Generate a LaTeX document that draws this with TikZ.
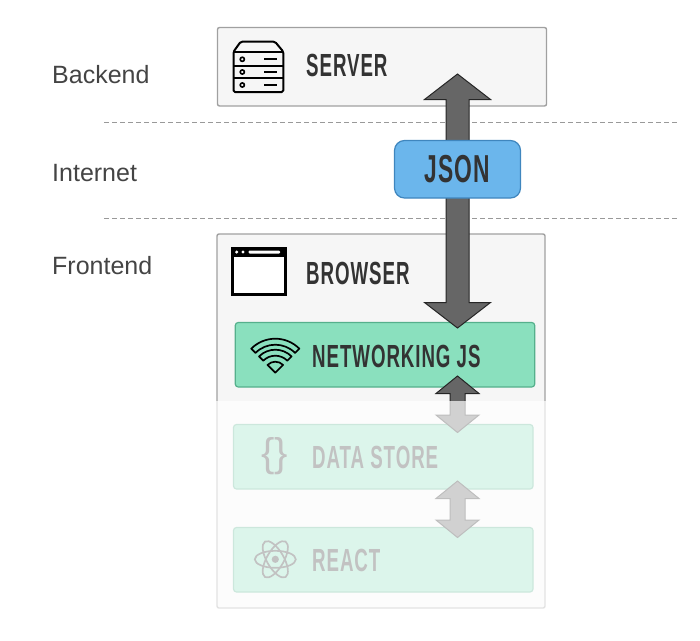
\documentclass[tikz,border=0pt]{standalone}
\usepackage{fontspec}
\usetikzlibrary{calc}
\setmainfont{Liberation Sans}
\newfontfamily\capsfont[FakeStretch=0.585,LetterSpace=2.9]{Liberation Sans Bold}
\definecolor{ink}{HTML}{333333}
\definecolor{sidetext}{HTML}{444444}
\definecolor{panel}{HTML}{F6F6F6}
\definecolor{panelline}{HTML}{A0A0A0}
\definecolor{mint}{HTML}{8AE0BE}
\definecolor{mintline}{HTML}{55B08C}
\definecolor{sky}{HTML}{6BB6EC}
\definecolor{skyline}{HTML}{3F86BE}
\definecolor{arrowgrey}{HTML}{666666}
\tikzset{
  x=1pt,y=-1pt,
  panelbox/.style={draw=panelline,fill=panel,line width=1.4pt,rounded corners=2pt,outer sep=0pt,inner sep=0pt},
  mintbox/.style={draw=mintline,fill=mint,line width=1.2pt,rounded corners=3pt,outer sep=0pt,inner sep=0pt,minimum width=299.5pt,minimum height=64.5pt},
  jsonbox/.style={draw=skyline,fill=sky,line width=1.2pt,rounded corners=10pt,outer sep=0pt,inner sep=0pt,minimum width=126pt,minimum height=57.5pt,text=ink,font=\capsfont\fontsize{39}{39}\selectfont},
  caps/.style={anchor=west,inner sep=0pt,text=ink,font=\capsfont\fontsize{32}{32}\selectfont},
  side/.style={anchor=base west,inner sep=0pt,text=sidetext,font=\fontsize{25}{25}\selectfont},
  rule/.style={draw=black!40,line width=.8pt,dash pattern=on 5pt off 3pt},
  blockarrow/.style n args={3}{draw=black!85,fill=arrowgrey,line width=1pt,line join=miter,
    to path={let \p1=(\tikztostart),\p2=(\tikztotarget) in
      (\x1,\y1) -- (\x1+#1,\y1-#3) -- (\x1+#2,\y1-#3) -- (\x1+#2,\y2+#3) -- (\x1+#1,\y2+#3)
      -- (\x1,\y2) -- (\x1-#1,\y2+#3) -- (\x1-#2,\y2+#3) -- (\x1-#2,\y1-#3) -- (\x1-#1,\y1-#3) -- cycle}},
  icon/.style={line width=2pt,draw=black,line join=round},
}
\begin{document}
\begin{tikzpicture}
\useasboundingbox (0,0) rectangle (700,640);
% boxes
\node[panelbox,minimum width=329pt,minimum height=78.5pt] (server) at (382,66.75) {};
\node[panelbox,minimum width=328pt,minimum height=374pt] (browser) at (381,421) {};
% rules
\coordinate (ruleAL) at (104,122.5); \coordinate (ruleAR) at (677,122.5);
\coordinate (ruleBL) at (104,218.5); \coordinate (ruleBR) at (677,218.5);
\draw[rule] (ruleAL) -- (ruleAR);
\draw[rule] (ruleBL) -- (ruleBR);
% lower boxes
\node[mintbox] (net) at (385,354.75) {};
\node[mintbox] (store) at (383.25,456.75) {};
\node[mintbox] (react) at (383.25,559.75) {};
% arrow anchors
\coordinate (bigTop) at (457.5,74);
\coordinate (bigBottom) at (457.5,328);
\coordinate (midTop) at (457.5,376);
\coordinate (midBottom) at (457.5,432.5);
\coordinate (lowTop) at (457.5,481);
\coordinate (lowBottom) at (457.5,537.5);
\draw[blockarrow={33pt}{11.5pt}{25.5pt}] (bigTop) to (bigBottom);
\draw[blockarrow={21.5pt}{7.5pt}{17.5pt}] (midTop) to (midBottom);
\draw[blockarrow={21.5pt}{7.5pt}{17.5pt}] (lowTop) to (lowBottom);
\node[jsonbox] (json) at (457.5,169.25) {JSON};
% labels
\node[side] (lblBackend) at (52,83.5) {Backend};
\node[side] (lblInternet) at (52,181.5) {Internet};
\node[side] (lblFrontend) at (52,274.5) {Frontend};
\node[caps] (lblServer) at (306,65) {SERVER};
\node[caps] (lblBrowser) at (306,273) {BROWSER};
\node[caps] (lblNet) at (312,356) {NETWORKING JS};
\node[caps] (lblStore) at (312,457.5) {DATA STORE};
\node[caps] (lblReact) at (312,560) {REACT};
% server icon
\draw[icon,rounded corners=1.5pt] (233.5,51.7) -- (240.7,41.7) -- (275,41.7) -- (283.3,51.7) -- (283.3,92) -- (233.5,92) -- cycle;
\draw[icon] (233.5,51.7) -- (283.3,51.7) (233.5,65.7) -- (283.3,65.7) (233.5,78.3) -- (283.3,78.3);
\foreach \yy in {59.3,72,85} {
  \draw[icon,line width=1.6pt] (242.3,\yy) circle[radius=2.1pt];
  \draw[icon] (264,\yy) -- (276.7,\yy);
}
% browser icon
\fill[black] (231,247) rectangle (287,296);
\fill[white] (234,257.3) rectangle (284,293.3);
\fill[white] (236.7,252) circle[radius=1.7pt] (243,252) circle[radius=1.7pt];
\fill[white,rounded corners=1pt] (248.7,250.5) rectangle (280,253.5);
% wifi icon
\begin{scope}[shift={(275.3,372.7)}]
\draw[icon,line width=1.7pt] (0pt,0pt) -- (135:11pt) arc[start angle=135,end angle=45,radius=11pt] -- cycle;
\draw[icon,line width=1.7pt] (135:17pt) arc[start angle=135,end angle=45,radius=17pt] -- (45:23pt) arc[start angle=45,end angle=135,radius=23pt] -- cycle;
\draw[icon,line width=1.7pt] (135:28pt) arc[start angle=135,end angle=45,radius=28pt] -- (45:34pt) arc[start angle=45,end angle=135,radius=34pt] -- cycle;
\end{scope}
% data store icon
\node[inner sep=0pt,text=ink,font=\fontsize{40}{40}\selectfont] (braces) at (274.5,456) {\{\}};
% react icon
\begin{scope}[shift={(275.3,559.3)}]
\foreach \aa in {0,60,120}
  \draw[draw=ink,line width=1.7pt,rotate=\aa] (0,0) circle[x radius=20.5pt,y radius=8.5pt];
\fill[ink] (0,0) circle[radius=3.6pt];
\end{scope}
% fade veil
\fill[white,fill opacity=.7] (215,401) rectangle (548,610);
\end{tikzpicture}
\end{document}
